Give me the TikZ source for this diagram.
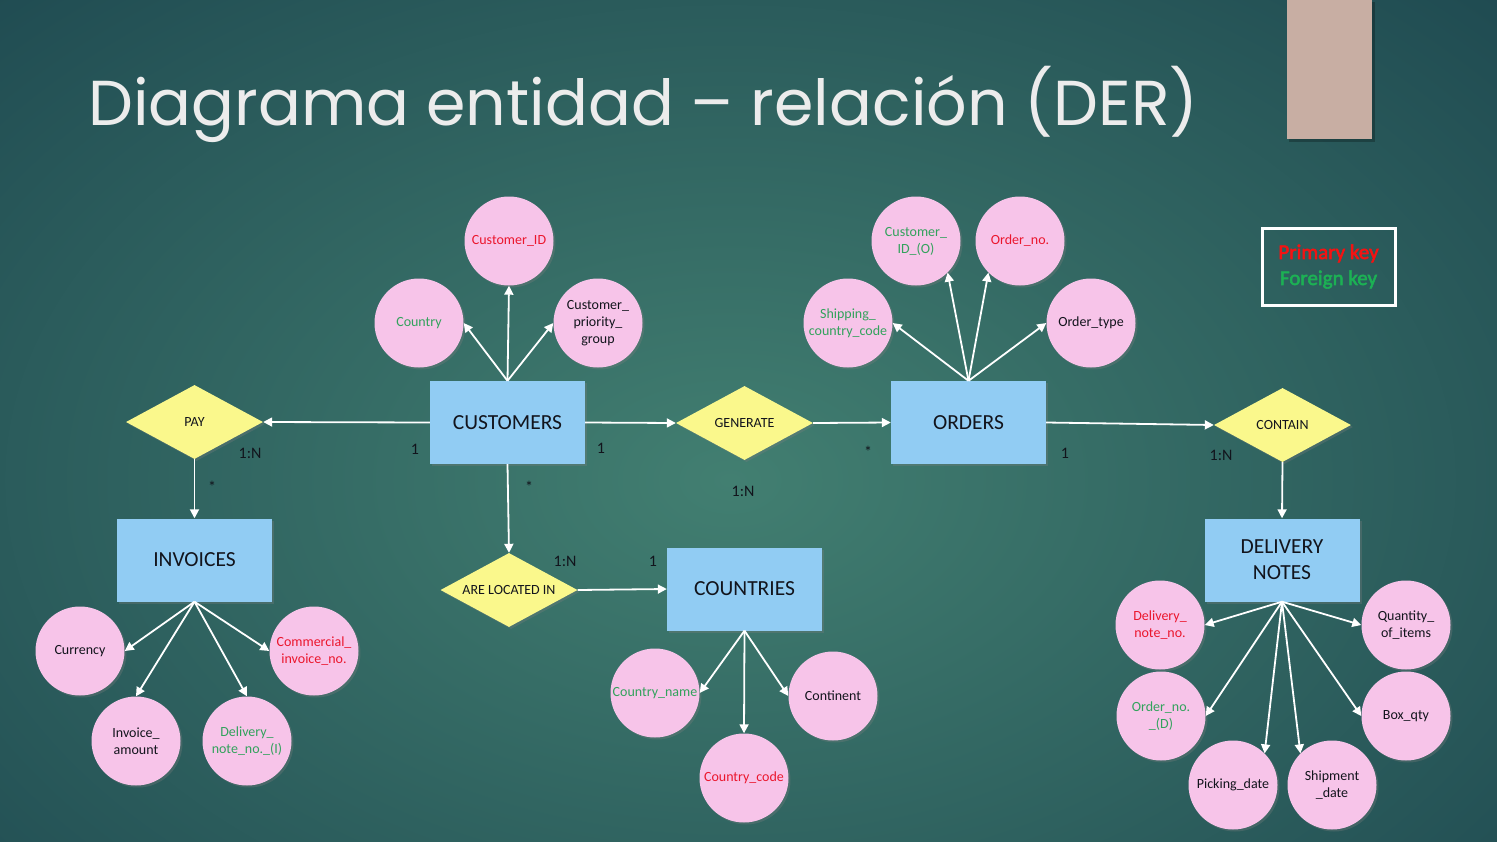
\documentclass[tikz,border=0pt]{standalone}
\usepackage{fontspec}
\setmainfont{Carlito}
\newfontfamily\titlefont{Poppins}
\newfontfamily\keyfont[FakeBold=2.5]{Carlito}
\usetikzlibrary{positioning,arrows.meta,shapes.geometric,shadows}
\definecolor{bgdark}{RGB}{19,56,70}
\definecolor{bglight}{RGB}{66,127,113}
\definecolor{entblue}{RGB}{145,204,243}
\definecolor{relyellow}{RGB}{250,248,140}
\definecolor{attpink}{RGB}{247,196,233}
\definecolor{pkred}{RGB}{235,22,45}
\definecolor{fkgreen}{RGB}{50,162,92}
\definecolor{keyred}{RGB}{245,18,18}
\definecolor{keygreen}{RGB}{28,176,84}
\definecolor{tagbeige}{RGB}{200,174,163}
\definecolor{inkdark}{RGB}{18,20,28}
\definecolor{titlewhite}{RGB}{236,236,236}

\begin{document}
\begin{tikzpicture}[x=1pt,y=-1pt,font=\fontsize{14}{17}\selectfont]
  \tikzset{
    entity/.style={fill=entblue,minimum width=155pt,minimum height=83pt,align=center,text=inkdark,
      font=\fontsize{21.5}{26}\selectfont,drop shadow={opacity=0.3,shadow xshift=2pt,shadow yshift=-2pt}},
    rel/.style={diamond,fill=relyellow,minimum width=137pt,minimum height=74pt,aspect=1.85,inner sep=0pt,
      text=inkdark,font=\fontsize{14}{16}\selectfont,drop shadow={opacity=0.3,shadow xshift=2pt,shadow yshift=-2pt}},
    attr/.style={circle,fill=attpink,minimum size=89pt,inner sep=0pt,align=center,text=inkdark,
      drop shadow={opacity=0.3,shadow xshift=2pt,shadow yshift=-2pt}},
    pk/.style={attr,text=pkred},
    fk/.style={attr,text=fkgreen},
    card/.style={text=inkdark,font=\fontsize{16}{18}\selectfont,inner sep=0pt},
    link/.style={draw=white,line width=1.8pt,-{Triangle[length=9pt,width=9pt]}}
  }
  \useasboundingbox (0,0) rectangle (1497,841);
  \fill[bgdark] (0,0) rectangle (1497,841);
  \begin{scope}
    \clip (0,0) rectangle (1497,841);
    \shade[inner color=bglight,outer color=bgdark] (730,480) ellipse [x radius=1450,y radius=950];
  \end{scope}
  \fill[black,opacity=0.25] (1289,2) rectangle (1375,142);
  \fill[tagbeige] (1287,0) rectangle (1372,139);

  \node[anchor=base west,inner sep=0pt,text=titlewhite,font=\titlefont\fontsize{63.5}{70}\selectfont] (title)
     at (88,125) {Diagrama entidad – relación (DER)};

  \node[draw=white,line width=3pt,minimum width=133pt,minimum height=77pt,align=center,
     font=\keyfont\fontsize{21}{26}\selectfont] (legend) at (1328.5,266.5)
     {\textcolor{keyred}{Primary key}\\\textcolor{keygreen}{Foreign key}};

  \node[entity] (cust) at (507.5,422.5) {CUSTOMERS};
  \node[entity] (ord)  at (968.5,422.5) {ORDERS};
  \node[entity] (inv)  at (194.5,560)   {INVOICES};
  \node[entity] (ctry) at (744.5,589)   {COUNTRIES};
  \node[entity] (dn)   at (1282,560)    {DELIVERY\\NOTES};

  \node[rel] (pay) at (194.5,422) {PAY};
  \node[rel] (gen) at (744.5,423) {GENERATE};
  \node[rel] (con) at (1282.5,425) {CONTAIN};
  \node[rel] (loc) at (509,590) {ARE LOCATED IN};

  \node[pk]   (custid)  at (509,241) {Customer\_ID};
  \node[fk]   (ccountry) at (419,323) {Country};
  \node[attr] (cprio)   at (598,323) {Customer\_\\priority\_\\group};

  \node[fk]   (custido) at (916,241) {Customer\_\\ID\_(O)};
  \node[pk]   (ordno)   at (1020,241) {Order\_no.};
  \node[fk]   (shipcc)  at (848,323) {Shipping\_\\country\_code};
  \node[attr] (ordtype) at (1091,323) {Order\_type};

  \node[attr] (curr)    at (80,651)  {Currency};
  \node[pk]   (cominv)  at (314,651) {Commercial\_\\invoice\_no.};
  \node[attr] (invamt)  at (136,741) {Invoice\_\\amount};
  \node[fk]   (dnoi)    at (247,741) {Delivery\_\\note\_no.\_(I)};

  \node[fk]   (cname)   at (655,693) {Country\_name};
  \node[attr] (cont)    at (833,696) {Continent};
  \node[pk]   (ccode)   at (744,778) {Country\_code};

  \node[pk]   (dnno)    at (1160,625)  {Delivery\_\\note\_no.};
  \node[attr] (qty)     at (1406,625)  {Quantity\_\\of\_items};
  \node[fk]   (ordnod)  at (1161,716)  {Order\_no.\\\_(D)};
  \node[attr] (boxqty)  at (1406,716)  {Box\_qty};
  \node[attr] (pick)    at (1233,785)  {Picking\_date};
  \node[attr] (ship)    at (1332,785)  {Shipment\\\_date};

  \draw[link] (cust.north) -- (custid.south);
  \draw[link] (cust.north) -- (ccountry.east);
  \draw[link] (cust.north) -- (cprio.west);
  \draw[link] (ord.north) -- (shipcc.east);
  \draw[link] (ord.north) -- (custido.south east);
  \draw[link] (ord.north) -- (ordno.south west);
  \draw[link] (ord.north) -- (ordtype.west);
  \draw[link] (inv.south) -- (curr.east);
  \draw[link] (inv.south) -- (invamt.north);
  \draw[link] (inv.south) -- (dnoi.north);
  \draw[link] (inv.south) -- (cominv.west);
  \draw[link] (ctry.south) -- (cname.east);
  \draw[link] (ctry.south) -- (ccode.north);
  \draw[link] (ctry.south) -- (cont.west);
  \draw[link] (dn.south) -- (dnno.east);
  \draw[link] (dn.south) -- (qty.west);
  \draw[link] (dn.south) -- (ordnod.east);
  \draw[link] (dn.south) -- (boxqty.west);
  \draw[link] (dn.south) -- (pick.north east);
  \draw[link] (dn.south) -- (ship.north west);

  \draw[link] (cust.west) -- (pay.east);
  \draw[link] (pay.south) -- (inv.north);
  \draw[link] (cust.east) -- (gen.west);
  \draw[link] (gen.east) -- (ord.west);
  \draw[link] (ord.east) -- (con.west);
  \draw[link] (con.south) -- (dn.north);
  \draw[link] (cust.south) -- (loc.north);
  \draw[link] (loc.east) -- (ctry.west);

  \node[card] (payn)   at (250,453)  {1:N};
  \node[card] (custl)  at (415,449)  {1};
  \node[card] (pays)   at (212,487)  {*};
  \node[card] (custr)  at (601,448)  {1};
  \node[card] (gens)   at (868,452)  {*};
  \node[card] (genn)   at (743,491)  {1:N};
  \node[card] (ordr)   at (1065,453) {1};
  \node[card] (conn)   at (1221,455) {1:N};
  \node[card] (locs)   at (529,487)  {*};
  \node[card] (locn)   at (565,561)  {1:N};
  \node[card] (ctryl)  at (653,561)  {1};
\end{tikzpicture}
\end{document}
